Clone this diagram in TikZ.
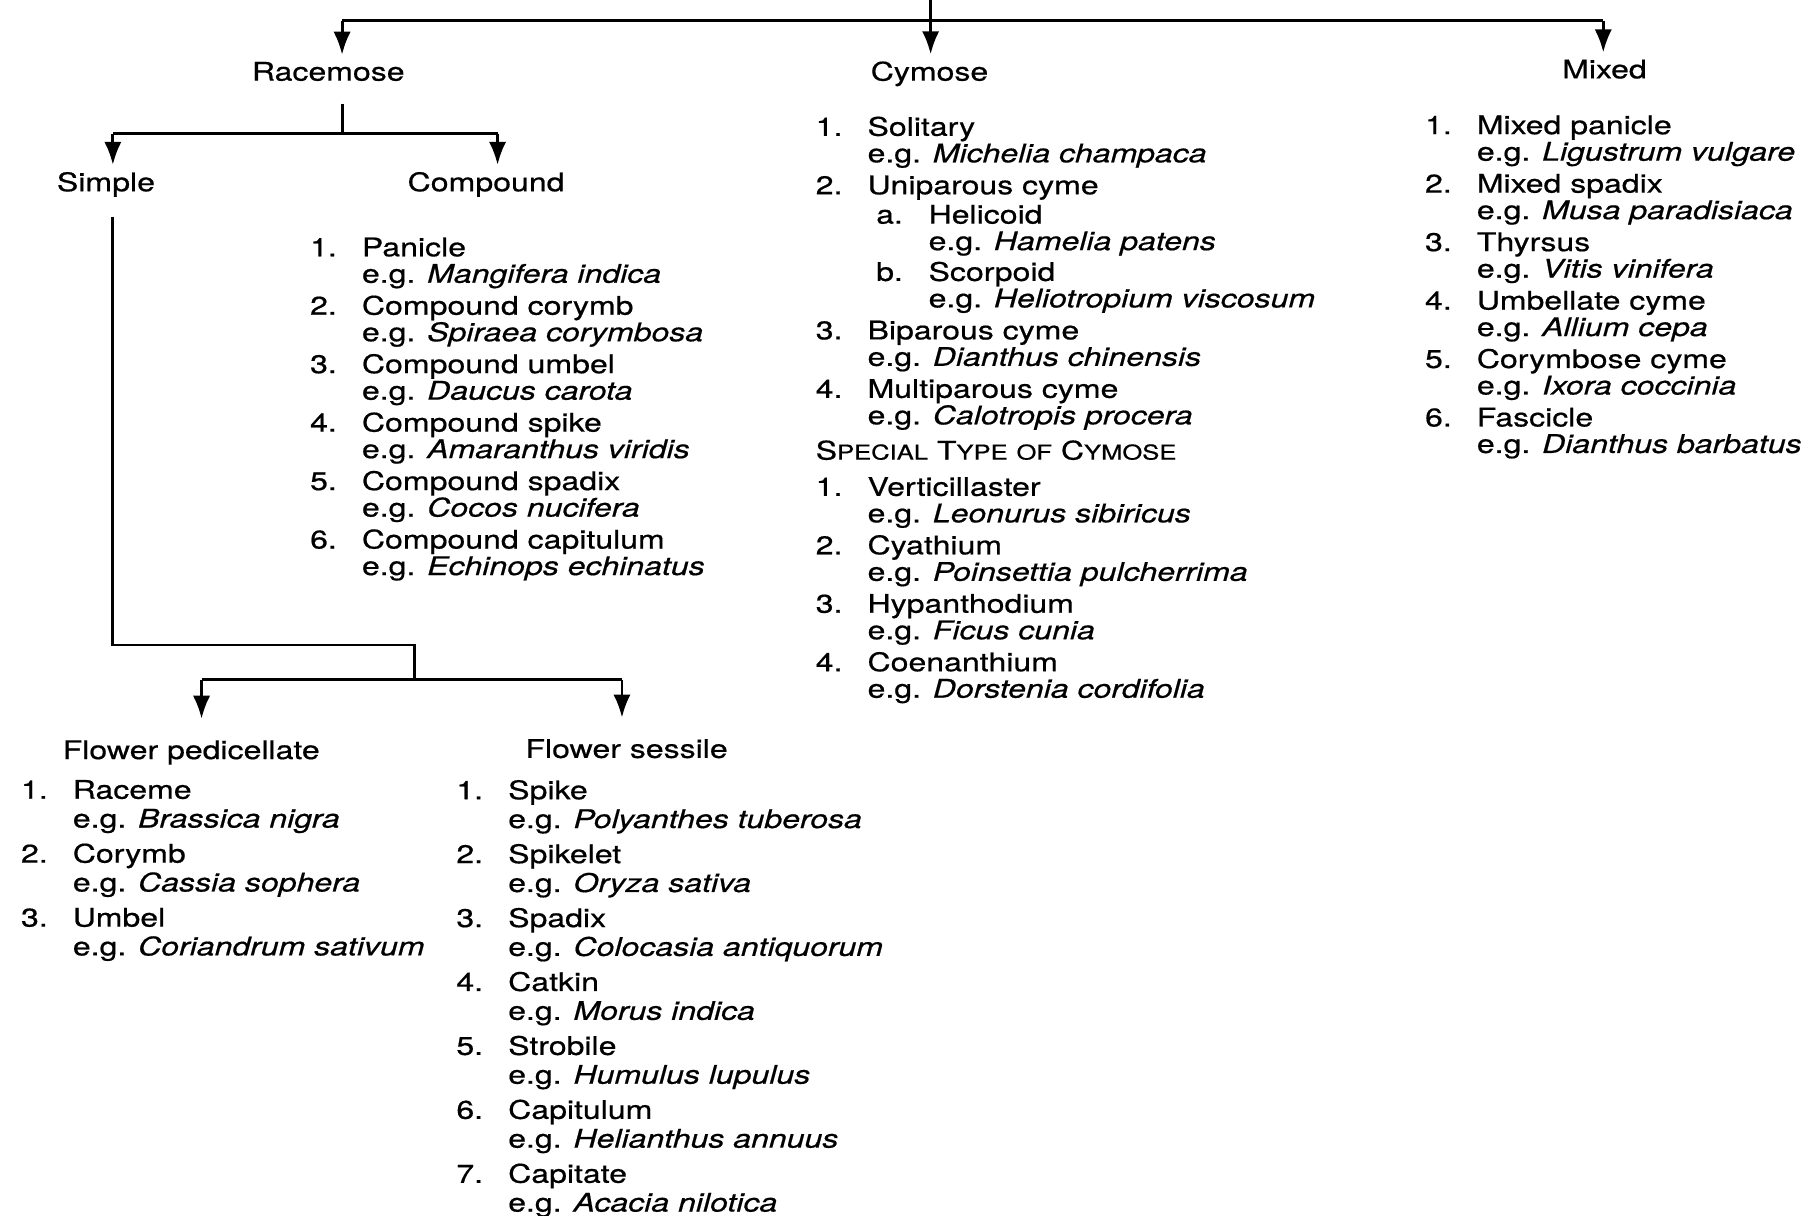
\documentclass[tikz,border=0pt]{standalone}
\usepackage{fontspec}
\setmainfont{TeX Gyre Heros}[FakeStretch=1.25, FakeBold=0.6]
\usetikzlibrary{arrows.meta}
\newlength{\numw}
\setlength{\numw}{18pt}
\newlength{\subw}
\setlength{\subw}{21.2pt}
\newcommand{\voce}[3]{\makebox[\numw][l]{#1}#2\\\hspace*{\numw}e.g. \textit{#3}}
\newcommand{\sottovoce}[3]{\hspace*{\numw}\makebox[\subw][l]{\hspace*{3pt}#1}#2\\\hspace*{\numw}\hspace*{\subw}e.g. \textit{#3}}
\newcommand{\pc}[1]{{\fontsize{7.1}{9}\selectfont #1}}

\begin{document}
\begin{tikzpicture}[x=0.4pt, y=-0.4pt, line width=1pt,
    freccia/.style={-{Latex[length=8pt,width=6pt]}},
    titolo/.style={anchor=base, inner sep=2pt, font=\fontsize{8.9}{9.2}\selectfont},
    elenco/.style={anchor=north west, inner sep=0pt, align=left, font=\fontsize{8.9}{9.2}\selectfont},
    elencoBasso/.style={elenco, font=\fontsize{8.9}{10}\selectfont}]
    % Parametri
    \pgfmathsetmacro{\stacco}{1.9}
    \pgfmathsetmacro{\staccoB}{2.2}
    \useasboundingbox (0,0) rectangle (1568,1055);
    % Intestazioni
    \node[titolo] (racemosa) at (285,70) {Racemose};
    \node[titolo] (cimosa) at (807,70) {Cymose};
    \node[titolo] (mista) at (1393,68) {Mixed};
    \node[titolo] (semplice) at (92,166) {Simple};
    \node[titolo] (composta) at (422,166) {Compound};
    \node[titolo] (pedicellato) at (166,659) {Flower pedicellate};
    \node[titolo] (sessile) at (544,658) {Flower sessile};
    % Frecce in alto
    \coordinate (radice) at (808,0);
    \coordinate (sbarraR) at (297,18);
    \coordinate (sbarraM) at (1392,18);
    \draw (sbarraR) -- (sbarraM);
    \draw[freccia] (radice) -- (radice |- cimosa.north);
    \draw[freccia] (sbarraR) -- (sbarraR |- racemosa.north);
    \draw[freccia] (sbarraM) -- (sbarraM |- mista.north);
    % Racemosa: semplice e composta
    \coordinate (gambaR) at (297,90);
    \coordinate (forcaR) at (297,116);
    \coordinate (forcaS) at (98,116);
    \coordinate (forcaC) at (432,116);
    \draw (gambaR) -- (forcaR);
    \draw (forcaS) -- (forcaC);
    \draw[freccia] (forcaS) -- (forcaS |- semplice.north);
    \draw[freccia] (forcaC) -- (forcaC |- composta.north);
    % Semplice: fiore pedicellato e sessile
    \coordinate (gambaS) at (98,188);
    \coordinate (gomito) at (360,560);
    \coordinate (forcaF) at (360,590);
    \coordinate (forcaP) at (175,590);
    \coordinate (forcaQ) at (540,590);
    \draw (gambaS) |- (gomito) -- (forcaF);
    \draw (forcaP) -- (forcaQ);
    \draw[freccia, shorten >=5pt] (forcaP) -- (forcaP |- pedicellato.north);
    \draw[freccia, shorten >=5pt] (forcaQ) -- (forcaQ |- sessile.north);
    % Elenchi
    \node[elenco] (listaComposta) at (268,205) {
        \voce{1.}{Panicle}{Mangifera indica}\\[\stacco pt]
        \voce{2.}{Compound corymb}{Spiraea corymbosa}\\[\stacco pt]
        \voce{3.}{Compound umbel}{Daucus carota}\\[\stacco pt]
        \voce{4.}{Compound spike}{Amaranthus viridis}\\[\stacco pt]
        \voce{5.}{Compound spadix}{Cocos nucifera}\\[\stacco pt]
        \voce{6.}{Compound capitulum}{Echinops echinatus}};
    \node[elenco] (listaCimosa) at (707,100) {
        \voce{1.}{Solitary}{Michelia champaca}\\[\stacco pt]
        \makebox[\numw][l]{2.}Uniparous cyme\\[1pt]
        \sottovoce{a.}{Helicoid}{Hamelia patens}\\[1.5pt]
        \sottovoce{b.}{Scorpoid}{Heliotropium viscosum}\\[\stacco pt]
        \voce{3.}{Biparous cyme}{Dianthus chinensis}\\[\stacco pt]
        \voce{4.}{Multiparous cyme}{Calotropis procera}};
    \node[titolo, anchor=base west, inner sep=0pt] (speciale) at (707,399)
        {S\pc{PECIAL} T\pc{YPE} \pc{OF} C\pc{YMOSE}};
    \node[elenco] (listaSpeciale) at (707,413) {
        \voce{1.}{Verticillaster}{Leonurus sibiricus}\\[\stacco pt]
        \voce{2.}{Cyathium}{Poinsettia pulcherrima}\\[\stacco pt]
        \voce{3.}{Hypanthodium}{Ficus cunia}\\[\stacco pt]
        \voce{4.}{Coenanthium}{Dorstenia cordifolia}};
    \node[elenco] (listaMista) at (1236,99) {
        \voce{1.}{Mixed panicle}{Ligustrum vulgare}\\[\stacco pt]
        \voce{2.}{Mixed spadix}{Musa paradisiaca}\\[\stacco pt]
        \voce{3.}{Thyrsus}{Vitis vinifera}\\[\stacco pt]
        \voce{4.}{Umbellate cyme}{Allium cepa}\\[\stacco pt]
        \voce{5.}{Corymbose cyme}{Ixora coccinia}\\[\stacco pt]
        \voce{6.}{Fascicle}{Dianthus barbatus}};
    \node[elencoBasso] (listaPedicellato) at (17,676) {
        \voce{1.}{Raceme}{Brassica nigra}\\[\staccoB pt]
        \voce{2.}{Corymb}{Cassia sophera}\\[\staccoB pt]
        \voce{3.}{Umbel}{Coriandrum sativum}};
    \node[elencoBasso] (listaSessile) at (395,676) {
        \voce{1.}{Spike}{Polyanthes tuberosa}\\[\staccoB pt]
        \voce{2.}{Spikelet}{Oryza sativa}\\[\staccoB pt]
        \voce{3.}{Spadix}{Colocasia antiquorum}\\[\staccoB pt]
        \voce{4.}{Catkin}{Morus indica}\\[\staccoB pt]
        \voce{5.}{Strobile}{Humulus lupulus}\\[\staccoB pt]
        \voce{6.}{Capitulum}{Helianthus annuus}\\[\staccoB pt]
        \voce{7.}{Capitate}{Acacia nilotica}};
\end{tikzpicture}
\end{document}
